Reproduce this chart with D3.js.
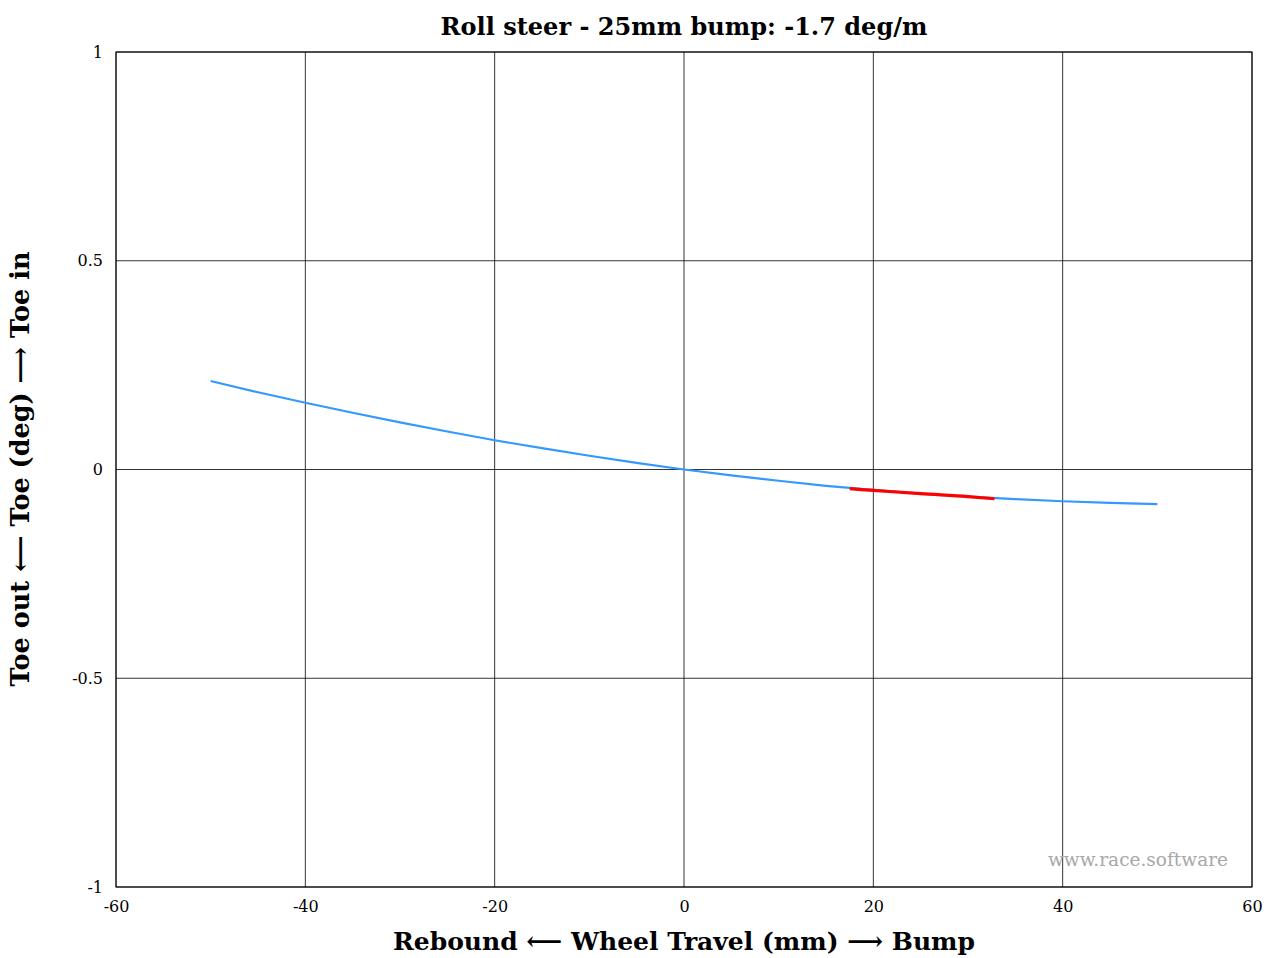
<!DOCTYPE html>
<html>
<head>
    <meta charset="utf-8">
    <title>Roll steer</title>
    <script src="https://d3js.org/d3.v7.js"></script>
    <style>
        body { margin: 0; background: #fff; }
        svg text { font-family: "DejaVu Serif", "Liberation Serif", serif; fill: #000; }
        .bold { font-weight: bold; }
    </style>
</head>
<body>
    <svg id="chart"></svg>
    <script>
        // Data
        var travel = [-50, -45, -40, -35, -30, -25, -20, -15, -10, -5, 0, 5, 10, 15, 20, 25, 30, 35, 40, 45, 50];
        var toe = [0.212, 0.185, 0.160, 0.136, 0.113, 0.091, 0.070, 0.051, 0.033, 0.016, 0.000,
            -0.014, -0.027, -0.039, -0.049, -0.058, -0.065, -0.071, -0.076, -0.080, -0.083];
        var fitTravel = [17.5, 20, 25, 30, 32.8];
        var fitToe = [-0.046, -0.050, -0.058, -0.065, -0.070];
        var xTicks = [-60, -40, -20, 0, 20, 40, 60];
        var yTicks = [-1, -0.5, 0, 0.5, 1];

        var width = 1267, height = 958;
        var m = { left: 116, right: 1252, top: 52, bottom: 887 };

        var svg = d3.select("#chart").attr("width", width).attr("height", height);

        var x = d3.scaleLinear().domain([-60, 60]).range([m.left, m.right]);
        var y = d3.scaleLinear().domain([-1, 1]).range([m.bottom, m.top]);

        // grid
        svg.append("g").selectAll("line").data(xTicks).enter().append("line")
            .attr("x1", function (d) { return x(d); }).attr("x2", function (d) { return x(d); })
            .attr("y1", m.top).attr("y2", m.bottom)
            .attr("stroke", "#000").attr("stroke-width", 0.8);
        svg.append("g").selectAll("line").data(yTicks).enter().append("line")
            .attr("x1", m.left).attr("x2", m.right)
            .attr("y1", function (d) { return y(d); }).attr("y2", function (d) { return y(d); })
            .attr("stroke", "#000").attr("stroke-width", 0.8);

        // axes (labels only, grid draws the lines)
        var xAxis = svg.append("g").attr("transform", "translate(0," + m.bottom + ")")
            .call(d3.axisBottom(x).tickValues(xTicks).tickSize(0).tickPadding(14)
                .tickFormat(function (d) { return String(d); }));
        var yAxis = svg.append("g").attr("transform", "translate(" + m.left + ",0)")
            .call(d3.axisLeft(y).tickValues(yTicks).tickSize(0).tickPadding(13)
                .tickFormat(function (d) { return String(d); }));
        [xAxis, yAxis].forEach(function (a) {
            a.select(".domain").remove();
            a.selectAll("text").attr("font-family", "DejaVu Serif").attr("font-size", 16).attr("fill", "#000");
        });

        // frame
        svg.append("rect").attr("x", m.left).attr("y", m.top)
            .attr("width", m.right - m.left).attr("height", m.bottom - m.top)
            .attr("fill", "none").attr("stroke", "#000").attr("stroke-width", 1);

        // curve
        var line = d3.line()
            .x(function (d) { return x(d[0]); })
            .y(function (d) { return y(d[1]); })
            .curve(d3.curveMonotoneX);

        svg.append("path").datum(d3.zip(travel, toe))
            .attr("d", line).attr("fill", "none")
            .attr("stroke", "#3399ff").attr("stroke-width", 2.2);

        svg.append("path").datum(d3.zip(fitTravel, fitToe))
            .attr("d", line).attr("fill", "none")
            .attr("stroke", "#ff0000").attr("stroke-width", 3.2);

        // fit a text to a measured width
        function fit(sel, w) {
            var len = sel.node().getComputedTextLength();
            var fs = parseFloat(sel.attr("font-size"));
            sel.attr("font-size", (fs * w / len).toFixed(2));
        }

        // watermark
        var wm = svg.append("text").attr("x", 1228).attr("y", 866)
            .attr("text-anchor", "end").attr("font-size", 17)
            .style("fill", "#a8a8a8")
            .text("www.race.software");
        fit(wm, 180);

        // titles
        var title = svg.append("text").attr("class", "bold").attr("x", 684).attr("y", 35)
            .attr("text-anchor", "middle").attr("font-size", 20)
            .text("Roll steer - 25mm bump: -1.7 deg/m");
        fit(title, 487);

        var xl = svg.append("text").attr("class", "bold").attr("x", 684).attr("y", 950)
            .attr("text-anchor", "middle").attr("font-size", 20)
            .text("Rebound \u27F5 Wheel Travel (mm) \u27F6 Bump");
        fit(xl, 582);

        var yl = svg.append("text").attr("class", "bold")
            .attr("transform", "translate(29," + 469 + ") rotate(-90)")
            .attr("text-anchor", "middle").attr("font-size", 20)
            .text("Toe out \u27F5 Toe (deg) \u27F6 Toe in");
        fit(yl, 435);
    </script>
</body>
</html>
